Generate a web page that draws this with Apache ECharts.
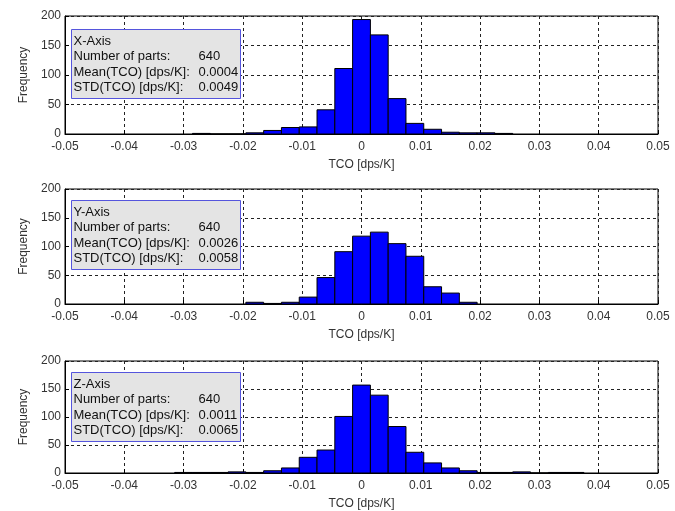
<!DOCTYPE html>
<html>
<head>
<meta charset="utf-8">
<script src="https://cdn.jsdelivr.net/npm/echarts@6/dist/echarts.min.js"></script>
<style>
  html, body { margin: 0; padding: 0; background: #fff; }
  #hist { width: 675px; height: 511px; }
</style>
</head>
<body>
<div id="hist"></div>
<script>
// histogram bin centres (TCO, dps/K) and counts for each axis
let bin_width = 0.003;

let centers_x = [-0.027, -0.024, -0.021, -0.018, -0.015, -0.012, -0.009, -0.006, -0.003, 0,
                 0.003, 0.006, 0.009, 0.012, 0.015, 0.018, 0.021, 0.024];
let counts_x = [1, 0, 0, 2, 6, 11, 12, 41, 111, 194, 168, 60, 18, 8, 3, 2, 2, 1];

let centers_y = [-0.018, -0.015, -0.012, -0.009, -0.006, -0.003, 0, 0.003, 0.006, 0.009,
                 0.012, 0.015, 0.018];
let counts_y = [3, 1, 3, 12, 46, 91, 118, 125, 105, 83, 30, 19, 3];

let centers_z = [-0.030, -0.027, -0.024, -0.021, -0.018, -0.015, -0.012, -0.009, -0.006, -0.003,
                 0, 0.003, 0.006, 0.009, 0.012, 0.015, 0.018, 0.021, 0.024, 0.027,
                 0.030, 0.033, 0.036];
let counts_z = [1, 1, 1, 2, 1, 4, 9, 28, 41, 101, 157, 139, 83, 37, 18, 9, 4, 1, 1, 2,
                0, 1, 1];

let x_ticks = [-0.05, -0.04, -0.03, -0.02, -0.01, 0, 0.01, 0.02, 0.03, 0.04, 0.05];
let y_ticks = [0, 50, 100, 150, 200];

let axis_names = ['X-Axis', 'Y-Axis', 'Z-Axis'];
let part_counts = ['640', '640', '640'];
let tco_means = ['0.0004', '0.0026', '0.0011'];
let tco_stds = ['0.0049', '0.0058', '0.0065'];

let font = 'Liberation Sans, Arial, sans-serif';
let text_color = '#333';

function drawHistograms() {
    let my_chart = echarts.init(document.getElementById('hist'));

    let grid_tops = [16, 189, 361];
    let grid_heights = [118, 115, 115];
    let all_centers = [centers_x, centers_y, centers_z];
    let all_counts = [counts_x, counts_y, counts_z];

    let grids = [], x_axes = [], y_axes = [], series = [], graphics = [];

    for (let i = 0; i < 3; i++) {
        grids.push({
            left: 65, width: 593, top: grid_tops[i], height: grid_heights[i],
            show: true, borderColor: '#000', borderWidth: 1, backgroundColor: '#fff'
        });
        x_axes.push({
            gridIndex: i,
            type: 'value',
            min: x_ticks[0],
            max: x_ticks[x_ticks.length - 1],
            interval: 0.01,
            name: 'TCO [dps/K]',
            nameLocation: 'middle',
            nameGap: 25,
            nameTextStyle: { fontFamily: font, fontSize: 12, color: text_color },
            axisLine: { onZero: false, lineStyle: { color: '#000' } },
            axisTick: { inside: true, length: 4, lineStyle: { color: '#000' } },
            axisLabel: { fontFamily: font, fontSize: 12, color: text_color, margin: 7 },
            splitLine: { show: true, lineStyle: { color: '#222', type: [3, 3], width: 1 } }
        });
        y_axes.push({
            gridIndex: i,
            type: 'value',
            min: y_ticks[0],
            max: y_ticks[y_ticks.length - 1],
            interval: 50,
            name: 'Frequency',
            nameLocation: 'middle',
            nameGap: 33,
            nameTextStyle: { fontFamily: font, fontSize: 12, color: text_color },
            axisLine: { show: true, onZero: false, lineStyle: { color: '#000' } },
            axisTick: { show: true, inside: true, length: 4, lineStyle: { color: '#000' } },
            axisLabel: { fontFamily: font, fontSize: 12, color: text_color, margin: 4 },
            splitLine: { show: true, lineStyle: { color: '#222', type: [3, 3], width: 1 } }
        });

        let data = all_centers[i].map(function (c, j) {
            return [c, all_counts[i][j]];
        });

        series.push({
            type: 'custom',
            xAxisIndex: i,
            yAxisIndex: i,
            data: data,
            z: 3,
            renderItem: function (params, api) {
                let c = api.value(0);
                let top_left = api.coord([c - bin_width / 2, api.value(1)]);
                let bottom_right = api.coord([c + bin_width / 2, 0]);
                return {
                    type: 'rect',
                    shape: {
                        x: top_left[0],
                        y: top_left[1],
                        width: bottom_right[0] - top_left[0],
                        height: bottom_right[1] - top_left[1]
                    },
                    style: { fill: '#0000ff', stroke: '#000', lineWidth: 1 }
                };
            }
        });

        // statistics box
        let box_top = grid_tops[i] + 13 - (i === 0 ? 0 : 2);
        let line_gap = 15.5;
        let label_style = { fontFamily: font, fontSize: 13, fill: '#111', verticalAlign: 'middle' };
        let rows = [
            [axis_names[i], ''],
            ['Number of parts:', part_counts[i]],
            ['Mean(TCO) [dps/K]:', tco_means[i]],
            ['STD(TCO) [dps/K]:', tco_stds[i]]
        ];
        let children = [{
            type: 'rect',
            z: 100,
            shape: { x: 0, y: 0, width: 169, height: 69 },
            style: { fill: '#e4e4e4', stroke: '#5555dd', lineWidth: 1 }
        }];
        rows.forEach(function (row, r) {
            children.push({
                type: 'text', z: 101, x: 2, y: 11.5 + r * line_gap,
                style: Object.assign({ text: row[0] }, label_style)
            });
            if (row[1]) {
                children.push({
                    type: 'text', z: 101, x: 127, y: 11.5 + r * line_gap,
                    style: Object.assign({ text: row[1] }, label_style)
                });
            }
        });
        graphics.push({ type: 'group', left: 71, top: box_top, z: 100, children: children });
    }

    let option = {
        animation: false,
        backgroundColor: '#fff',
        grid: grids,
        xAxis: x_axes,
        yAxis: y_axes,
        series: series,
        graphic: graphics
    };

    my_chart.setOption(option);
}

drawHistograms();
</script>
</body>
</html>
